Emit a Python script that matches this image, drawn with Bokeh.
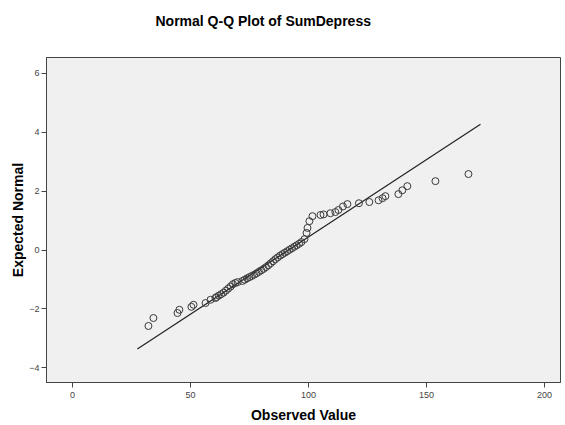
from bokeh.plotting import figure
from bokeh.embed import file_html
from bokeh.resources import INLINE
from bokeh.models import FixedTicker, Range1d, Title

observed = [32.2, 34.3, 44.5, 45.3, 50.4, 51.3, 56.4, 58.5, 60.6,
            61, 62, 63, 64, 65, 66, 67, 68, 69, 70, 72, 73, 74, 75, 76, 77, 78, 79,
            80, 81, 82, 83, 84, 85, 86, 87, 88, 89, 90, 91, 92, 93, 94, 95, 96, 97,
            98.3, 99.2, 99.6, 100.4, 101.7, 105.1, 106.4, 109.3, 111.4, 112.7,
            114.6, 116.5, 121.4, 125.8, 129.7, 131.4, 132.6, 138.1, 139.8, 141.9,
            153.8, 167.8]
expected = [-2.58, -2.31, -2.14, -2.03, -1.93, -1.86, -1.80, -1.69, -1.63,
            -1.60, -1.55, -1.50, -1.45, -1.38, -1.31, -1.24, -1.16, -1.12, -1.09, -1.05, -1.01, -0.96, -0.92, -0.88, -0.84, -0.79, -0.74,
            -0.69, -0.64, -0.58, -0.52, -0.45, -0.38, -0.31, -0.25, -0.19, -0.14, -0.09, -0.04, 0.01, 0.06, 0.11, 0.16, 0.21, 0.27,
            0.37, 0.58, 0.75, 0.98, 1.15, 1.19, 1.21, 1.25, 1.29, 1.36,
            1.48, 1.56, 1.59, 1.63, 1.69, 1.76, 1.83, 1.90, 2.03, 2.17,
            2.34, 2.58]

# Reference line endpoints
line_x = [27.5, 172.9]
line_y = [-3.36, 4.27]

x_ticks = [0, 50, 100, 150, 200]
y_ticks = [-4, -2, 0, 2, 4, 6]

TITLE = "Normal Q-Q Plot of SumDepress"
FONT = "Liberation Sans"

p = figure(width=565, height=425, output_backend="svg", toolbar_location=None,
           x_range=Range1d(-11, 206.8), y_range=Range1d(-4.5, 6.54),
           min_border_left=46, min_border_top=57, min_border_right=5, min_border_bottom=42,
           title=None)

p.background_fill_color = "#f0f0f0"
p.border_fill_color = "white"
p.outline_line_color = "#444444"
p.outline_line_width = 1
p.grid.visible = False

# blank spacer title (closest to the frame) pushes the real title upward
spacer = Title(text=" ", text_font=FONT, text_font_size="10px", standoff=16)
p.add_layout(spacer, "above")
main_title = Title(text=TITLE, text_font=FONT, text_font_size="14px",
                   text_font_style="bold", text_color="#000000",
                   align="left", offset=109, standoff=0)
p.add_layout(main_title, "above")

for ax in (p.xaxis[0], p.yaxis[0]):
    ax.axis_line_color = "#444444"
    ax.major_tick_line_color = "#444444"
    ax.major_tick_out = 5
    ax.major_tick_in = 0
    ax.minor_tick_line_color = None
    ax.major_label_text_font = FONT
    ax.major_label_text_font_size = "9px"
    ax.major_label_text_color = "#444444"
    ax.axis_label_text_font = FONT
    ax.axis_label_text_font_size = "14px"
    ax.axis_label_text_font_style = "bold"
    ax.axis_label_text_color = "#000000"

p.xaxis.major_label_standoff = 4
p.xaxis.axis_label_standoff = 6
p.yaxis.major_label_standoff = 2
p.yaxis.axis_label_standoff = 0

p.xaxis.ticker = FixedTicker(ticks=x_ticks)
p.yaxis.ticker = FixedTicker(ticks=y_ticks)
p.xaxis.axis_label = "Observed Value"
p.yaxis.axis_label = "Expected Normal"

p.line(line_x, line_y, line_color="#222222", line_width=1.2)
p.scatter(observed, expected, marker="circle", size=7, fill_color=None,
          line_color="#3a3a3a", line_width=1)

open("out.html", "w").write(file_html(p, INLINE))
